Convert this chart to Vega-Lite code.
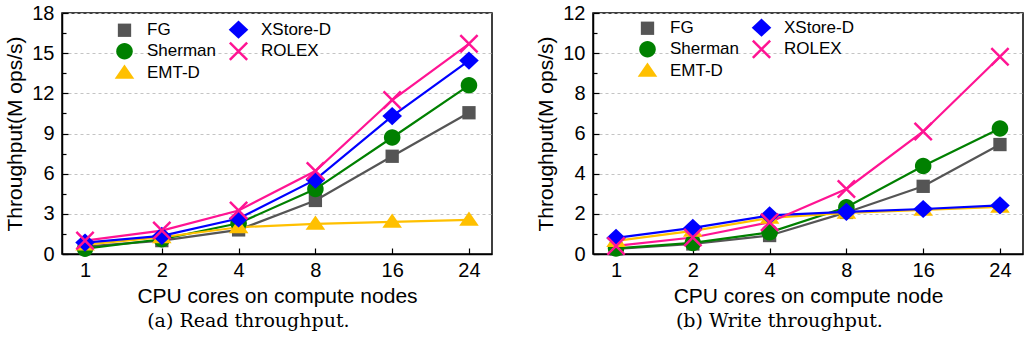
{
  "$schema": "https://vega.github.io/schema/vega-lite/v6.json",
  "padding": {"left": 4, "top": 2, "right": 4, "bottom": 0},
  "background": "white",
  "spacing": 42,
  "datasets": {
    "read": [
      {"sys": "FG", "cores": 1, "v": 0.55}, {"sys": "FG", "cores": 2, "v": 1.0}, {"sys": "FG", "cores": 4, "v": 1.8}, {"sys": "FG", "cores": 8, "v": 4.0}, {"sys": "FG", "cores": 16, "v": 7.3}, {"sys": "FG", "cores": 24, "v": 10.55},
      {"sys": "Sherman", "cores": 1, "v": 0.4}, {"sys": "Sherman", "cores": 2, "v": 1.1}, {"sys": "Sherman", "cores": 4, "v": 2.3}, {"sys": "Sherman", "cores": 8, "v": 4.85}, {"sys": "Sherman", "cores": 16, "v": 8.7}, {"sys": "Sherman", "cores": 24, "v": 12.6},
      {"sys": "EMT-D", "cores": 1, "v": 0.7}, {"sys": "EMT-D", "cores": 2, "v": 1.25}, {"sys": "EMT-D", "cores": 4, "v": 2.0}, {"sys": "EMT-D", "cores": 8, "v": 2.25}, {"sys": "EMT-D", "cores": 16, "v": 2.4}, {"sys": "EMT-D", "cores": 24, "v": 2.55},
      {"sys": "XStore-D", "cores": 1, "v": 0.85}, {"sys": "XStore-D", "cores": 2, "v": 1.35}, {"sys": "XStore-D", "cores": 4, "v": 2.65}, {"sys": "XStore-D", "cores": 8, "v": 5.55}, {"sys": "XStore-D", "cores": 16, "v": 10.3}, {"sys": "XStore-D", "cores": 24, "v": 14.45},
      {"sys": "ROLEX", "cores": 1, "v": 1.0}, {"sys": "ROLEX", "cores": 2, "v": 1.75}, {"sys": "ROLEX", "cores": 4, "v": 3.25}, {"sys": "ROLEX", "cores": 8, "v": 6.2}, {"sys": "ROLEX", "cores": 16, "v": 11.5}, {"sys": "ROLEX", "cores": 24, "v": 15.7}
    ],
    "write": [
      {"sys": "FG", "cores": 1, "v": 0.25}, {"sys": "FG", "cores": 2, "v": 0.5}, {"sys": "FG", "cores": 4, "v": 0.92}, {"sys": "FG", "cores": 8, "v": 2.07}, {"sys": "FG", "cores": 16, "v": 3.37}, {"sys": "FG", "cores": 24, "v": 5.45},
      {"sys": "Sherman", "cores": 1, "v": 0.28}, {"sys": "Sherman", "cores": 2, "v": 0.55}, {"sys": "Sherman", "cores": 4, "v": 1.08}, {"sys": "Sherman", "cores": 8, "v": 2.33}, {"sys": "Sherman", "cores": 16, "v": 4.38}, {"sys": "Sherman", "cores": 24, "v": 6.25},
      {"sys": "EMT-D", "cores": 1, "v": 0.65}, {"sys": "EMT-D", "cores": 2, "v": 1.15}, {"sys": "EMT-D", "cores": 4, "v": 1.8}, {"sys": "EMT-D", "cores": 8, "v": 2.05}, {"sys": "EMT-D", "cores": 16, "v": 2.2}, {"sys": "EMT-D", "cores": 24, "v": 2.35},
      {"sys": "XStore-D", "cores": 1, "v": 0.8}, {"sys": "XStore-D", "cores": 2, "v": 1.3}, {"sys": "XStore-D", "cores": 4, "v": 1.92}, {"sys": "XStore-D", "cores": 8, "v": 2.1}, {"sys": "XStore-D", "cores": 16, "v": 2.24}, {"sys": "XStore-D", "cores": 24, "v": 2.42},
      {"sys": "ROLEX", "cores": 1, "v": 0.4}, {"sys": "ROLEX", "cores": 2, "v": 0.82}, {"sys": "ROLEX", "cores": 4, "v": 1.58}, {"sys": "ROLEX", "cores": 8, "v": 3.24}, {"sys": "ROLEX", "cores": 16, "v": 6.1}, {"sys": "ROLEX", "cores": 24, "v": 9.82}
    ]
  },
  "resolve": {
    "scale": {"color": "independent", "shape": "independent"},
    "legend": {"color": "independent", "shape": "independent"}
  },
  "hconcat": [
    {
      "width": 430,
      "height": 241,
      "data": {"name": "read"},
      "title": {"text": "(a) Read throughput.", "orient": "bottom", "font": "DejaVu Serif", "fontSize": 19, "fontWeight": "normal", "color": "black", "frame": "bounds", "anchor": "middle", "offset": 6},
      "resolve": {"axis": {"y": "independent"}},
      "layer": [
        {
          "mark": {"type": "line", "strokeWidth": 2.2},
          "encoding": {
            "x": {"field": "cores", "type": "ordinal", "scale": {"type": "point", "padding": 0.3}, "axis": {"title": "CPU cores on compute nodes", "labelAngle": 0, "tickSize": -6, "labelPadding": 12, "titlePadding": 5, "grid": false}},
            "y": {"field": "v", "type": "quantitative", "scale": {"domain": [0, 18], "nice": false}, "axis": {"title": "Throughput(M ops/s)", "values": [0, 3, 6, 9, 12, 15, 18], "tickSize": -6, "labelPadding": 14, "titlePadding": 6, "grid": true}},
            "color": {"field": "sys", "type": "nominal", "scale": {"domain": ["FG", "Sherman", "EMT-D", "XStore-D", "ROLEX"], "range": ["#555555", "#008000", "#FFC000", "#0000FF", "#FF1493"]}}
          }
        },
        {
          "mark": {"type": "point", "filled": true, "size": 196, "strokeWidth": 0, "opacity": 1},
          "encoding": {
            "x": {"field": "cores", "type": "ordinal"},
            "y": {"field": "v", "type": "quantitative", "axis": {"orient": "left", "values": [1.5, 4.5, 7.5, 10.5, 13.5, 16.5], "labels": false, "domain": false, "grid": false, "tickSize": -4, "title": null}},
            "color": {"field": "sys", "type": "nominal", "scale": {"domain": ["FG", "Sherman", "EMT-D", "XStore-D", "ROLEX"], "range": ["#555555", "#008000", "#FFC000", "#0000FF", "#FF1493"]},
              "legend": {"orient": "none", "legendX": 54, "legendY": 8, "columns": 2, "title": null, "symbolSize": 196, "symbolStrokeWidth": 0, "labelFont": "Liberation Sans", "labelFontSize": 17, "labelColor": "black", "labelOffset": 14, "columnPadding": 12, "rowPadding": 1.7, "padding": 0}},
            "shape": {"field": "sys", "type": "nominal", "legend": null, "scale": {"domain": ["FG", "Sherman", "EMT-D", "XStore-D", "ROLEX"], "range": ["M-0.95,-0.95H0.95V0.95H-0.95Z", "M-1.18,0A1.18,1.18,0,1,1,1.18,0A1.18,1.18,0,1,1,-1.18,0Z", "M0,-1.2L1.4,0.85L-1.4,0.85Z", "M-1.4,0L0,-1.3L1.4,0L0,1.3Z", "M-1.36,-1.11L-1.11,-1.36L1.36,1.11L1.11,1.36Z M-1.36,1.11L1.11,-1.36L1.36,-1.11L-1.11,1.36Z"]}}
          }
        }
      ]
    },
    {
      "width": 430,
      "height": 241,
      "data": {"name": "write"},
      "title": {"text": "(b) Write throughput.", "orient": "bottom", "font": "DejaVu Serif", "fontSize": 19, "fontWeight": "normal", "color": "black", "frame": "bounds", "anchor": "middle", "offset": 6},
      "resolve": {"axis": {"y": "independent"}},
      "layer": [
        {
          "mark": {"type": "line", "strokeWidth": 2.2},
          "encoding": {
            "x": {"field": "cores", "type": "ordinal", "scale": {"type": "point", "padding": 0.3}, "axis": {"title": "CPU cores on compute node", "labelAngle": 0, "tickSize": -6, "labelPadding": 12, "titlePadding": 5, "grid": false}},
            "y": {"field": "v", "type": "quantitative", "scale": {"domain": [0, 12], "nice": false}, "axis": {"title": "Throughput(M ops/s)", "values": [0, 2, 4, 6, 8, 10, 12], "tickSize": -6, "labelPadding": 14, "titlePadding": 6, "grid": true}},
            "color": {"field": "sys", "type": "nominal", "scale": {"domain": ["FG", "Sherman", "EMT-D", "XStore-D", "ROLEX"], "range": ["#555555", "#008000", "#FFC000", "#0000FF", "#FF1493"]}}
          }
        },
        {
          "mark": {"type": "point", "filled": true, "size": 196, "strokeWidth": 0, "opacity": 1},
          "encoding": {
            "x": {"field": "cores", "type": "ordinal"},
            "y": {"field": "v", "type": "quantitative", "axis": {"orient": "left", "values": [1, 3, 5, 7, 9, 11], "labels": false, "domain": false, "grid": false, "tickSize": -4, "title": null}},
            "color": {"field": "sys", "type": "nominal", "scale": {"domain": ["FG", "Sherman", "EMT-D", "XStore-D", "ROLEX"], "range": ["#555555", "#008000", "#FFC000", "#0000FF", "#FF1493"]},
              "legend": {"orient": "none", "legendX": 46, "legendY": 6, "columns": 2, "title": null, "symbolSize": 196, "symbolStrokeWidth": 0, "labelFont": "Liberation Sans", "labelFontSize": 17, "labelColor": "black", "labelOffset": 14, "columnPadding": 12, "rowPadding": 1.7, "padding": 0}},
            "shape": {"field": "sys", "type": "nominal", "legend": null, "scale": {"domain": ["FG", "Sherman", "EMT-D", "XStore-D", "ROLEX"], "range": ["M-0.95,-0.95H0.95V0.95H-0.95Z", "M-1.18,0A1.18,1.18,0,1,1,1.18,0A1.18,1.18,0,1,1,-1.18,0Z", "M0,-1.2L1.4,0.85L-1.4,0.85Z", "M-1.4,0L0,-1.3L1.4,0L0,1.3Z", "M-1.36,-1.11L-1.11,-1.36L1.36,1.11L1.11,1.36Z M-1.36,1.11L1.11,-1.36L1.36,-1.11L-1.11,1.36Z"]}}
          }
        }
      ]
    }
  ],
  "config": {
    "view": {"stroke": "black", "strokeWidth": 1.5},
    "axis": {"labelFont": "Liberation Sans", "labelFontSize": 20, "labelColor": "black", "titleFont": "Liberation Sans", "titleFontSize": 21, "titleFontWeight": "normal", "titleColor": "black", "domainColor": "black", "domainWidth": 1.5, "tickColor": "black", "tickWidth": 1.2, "gridColor": "#c4c4c4", "gridDash": [3, 3], "gridWidth": 1},
    "title": {"font": "DejaVu Serif"}
  }
}
